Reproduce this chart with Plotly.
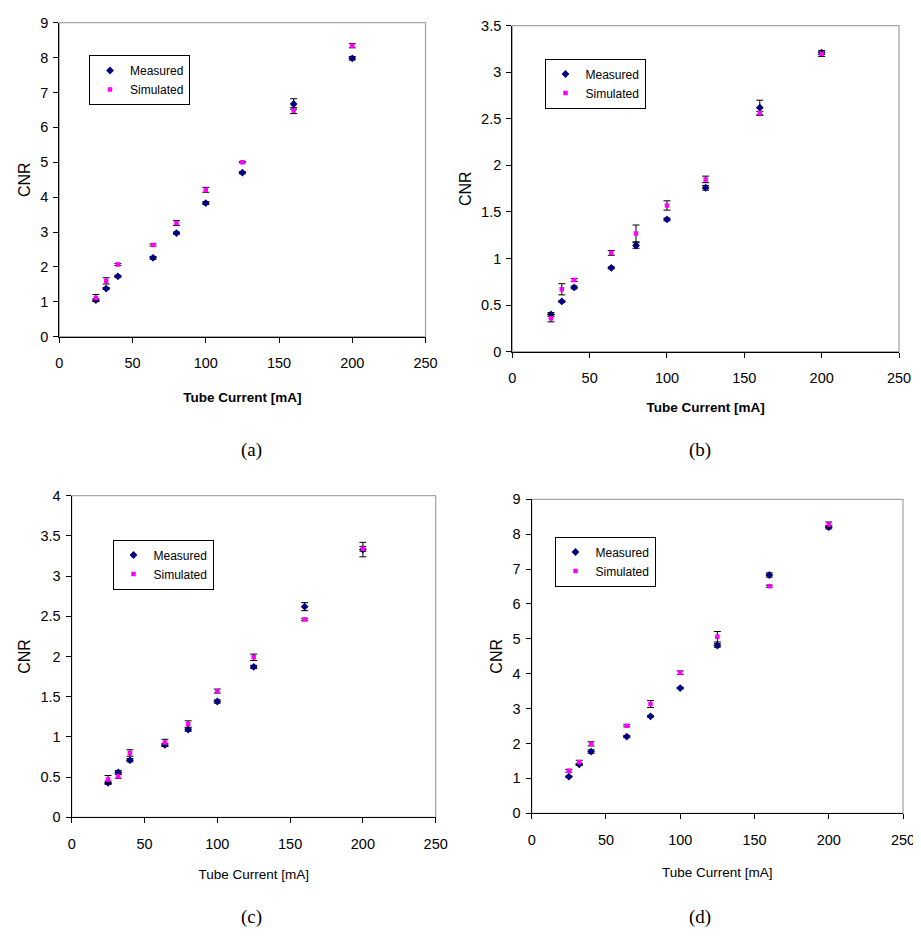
import plotly.graph_objects as go

# ---------------- data ----------------
tube_current = [25, 32, 40, 64, 80, 100, 125, 160, 200]
x_ticks = [0, 50, 100, 150, 200, 250]

# panel (a)
a_measured = [1.05, 1.38, 1.73, 2.26, 2.97, 3.83, 4.70, 6.67, 7.98]
a_measured_err = [0.03, 0.03, 0.03, 0.04, 0.03, 0.04, 0.03, 0.15, 0.05]
a_simulated = [1.11, 1.60, 2.07, 2.63, 3.26, 4.21, 5.00, 6.48, 8.34]
a_simulated_err = [0.10, 0.09, 0.03, 0.03, 0.07, 0.07, 0.02, 0.085, 0.06]

# panel (b)
b_measured = [0.40, 0.54, 0.69, 0.90, 1.14, 1.42, 1.76, 2.62, 3.21]
b_measured_err = [0.02, 0.01, 0.015, 0.01, 0.03, 0.015, 0.025, 0.08, 0.02]
b_simulated = [0.36, 0.67, 0.77, 1.06, 1.27, 1.57, 1.85, 2.56, 3.20]
b_simulated_err = [0.04, 0.06, 0.015, 0.025, 0.09, 0.05, 0.035, 0.02, 0.03]

# panel (c)
c_measured = [0.43, 0.56, 0.71, 0.90, 1.09, 1.44, 1.87, 2.62, 3.33]
c_measured_err = [0.02, 0.02, 0.02, 0.02, 0.02, 0.02, 0.02, 0.05, 0.09]
c_simulated = [0.47, 0.51, 0.80, 0.93, 1.16, 1.57, 1.99, 2.46, 3.34]
c_simulated_err = [0.05, 0.025, 0.04, 0.04, 0.04, 0.025, 0.04, 0.015, 0.03]

# panel (d)
d_measured = [1.05, 1.40, 1.77, 2.20, 2.78, 3.59, 4.81, 6.83, 8.20]
d_measured_err = [0.02, 0.03, 0.05, 0.03, 0.02, 0.02, 0.05, 0.06, 0.05]
d_simulated = [1.22, 1.46, 1.99, 2.51, 3.13, 4.03, 5.06, 6.51, 8.28]
d_simulated_err = [0.04, 0.06, 0.06, 0.03, 0.10, 0.05, 0.15, 0.03, 0.07]

panel_labels = ["(a)", "(b)", "(c)", "(d)"]
y_max = [9, 3.5, 4, 9]
y_dtick = [1, 0.5, 0.5, 1]

# ---------------- layout geometry (page pixels) ----------------
PAGE_W, PAGE_H = 921, 938
OFF = 8  # default body margin of the html page
W, H = PAGE_W - OFF, PAGE_H - OFF
frames = [  # left, right, top, bottom in page px
    (59.3, 425.5, 22.7, 336.7),
    (512.3, 899.0, 25.7, 351.7),
    (71.7, 435.7, 495.7, 817.3),
    (531.7, 903.0, 499.3, 813.3),
]
legend_center = [(139.5, 80), (595, 83.5), (163, 564.5), (605, 561.5)]
label_pos = [(251, 450), (700, 450), (251, 917), (700, 917)]
xtitle_bold = [True, True, False, False]
xtitle_standoff = [22, 17, 18, 20]

NAVY = "#000080"
MAGENTA = "#FF00FF"
FONT = "Arial, Liberation Sans, sans-serif"

series = [
    (a_measured, a_measured_err, a_simulated, a_simulated_err),
    (b_measured, b_measured_err, b_simulated, b_simulated_err),
    (c_measured, c_measured_err, c_simulated, c_simulated_err),
    (d_measured, d_measured_err, d_simulated, d_simulated_err),
]


def fx(px):
    return (px - OFF) / W


def fy(py):
    return 1 - (py - OFF) / H


fig = go.Figure()
layout = dict(
    width=W, height=H,
    margin=dict(l=0, r=0, t=0, b=0, pad=0, autoexpand=False),
    paper_bgcolor="white", plot_bgcolor="white",
    font=dict(family=FONT, color="black", size=14),
    shapes=[], annotations=[],
)

for i, (m, me, s, se) in enumerate(series):
    k = "" if i == 0 else str(i + 1)
    xa, ya = "x" + k, "y" + k
    lg = "legend" + k
    fig.add_trace(go.Scatter(
        x=tube_current, y=m, mode="markers", name="Measured",
        marker=dict(symbol="diamond", size=6, color=NAVY),
        error_y=dict(type="data", array=me, visible=True, color="black",
                     thickness=1, width=3.5),
        xaxis=xa, yaxis=ya, legend=lg,
    ))
    fig.add_trace(go.Scatter(
        x=tube_current, y=s, mode="markers", name="Simulated",
        marker=dict(symbol="square", size=4.5, color=MAGENTA),
        error_y=dict(type="data", array=se, visible=True, color="black",
                     thickness=1, width=3.5),
        xaxis=xa, yaxis=ya, legend=lg,
    ))

    l, r, t, b = frames[i]
    xtitle = "<b>Tube Current [mA]</b>" if xtitle_bold[i] else "Tube Current [mA]"
    layout["xaxis" + k] = dict(
        domain=[fx(l), fx(r)], anchor=ya, range=[0, 250],
        tickvals=x_ticks, ticks="outside", ticklen=5, tickcolor="black",
        tickfont=dict(size=14.5), showgrid=False, zeroline=False,
        showline=True, linecolor="black", linewidth=1.3, mirror=False,
        ticklabelstandoff=8, automargin=False,
        title=dict(text=xtitle, font=dict(size=13.5),
                   standoff=xtitle_standoff[i]),
        fixedrange=True,
    )
    layout["yaxis" + k] = dict(
        domain=[fy(b), fy(t)], anchor=xa, range=[0, y_max[i]],
        dtick=y_dtick[i], tick0=0, ticks="outside", ticklen=5,
        tickcolor="black", tickfont=dict(size=14.5), showgrid=False,
        zeroline=False, showline=True, linecolor="black", linewidth=1.3,
        mirror=False, ticklabelstandoff=2, automargin=False,
        title=dict(text="CNR", font=dict(size=16), standoff=5),
        fixedrange=True,
    )
    layout["shapes"].append(dict(
        type="rect", xref=xa + " domain", yref=ya + " domain",
        x0=0, x1=1, y0=0, y1=1, line=dict(color="#A8A8A8", width=1.3),
        layer="below",
    ))
    lx, ly = legend_center[i]
    layout[lg] = dict(
        x=fx(lx), y=fy(ly), xanchor="center", yanchor="middle",
        bordercolor="black", borderwidth=1, bgcolor="white",
        font=dict(size=12, family=FONT), itemwidth=30,
        tracegroupgap=0,
    )
    px_, py_ = label_pos[i]
    layout["annotations"].append(dict(
        text=panel_labels[i], x=fx(px_), y=fy(py_), xref="paper",
        yref="paper", showarrow=False, xanchor="center", yanchor="middle",
        font=dict(family="Times New Roman, Liberation Serif, serif", size=19),
    ))

fig.update_layout(**layout)
fig.write_html("out.html")
